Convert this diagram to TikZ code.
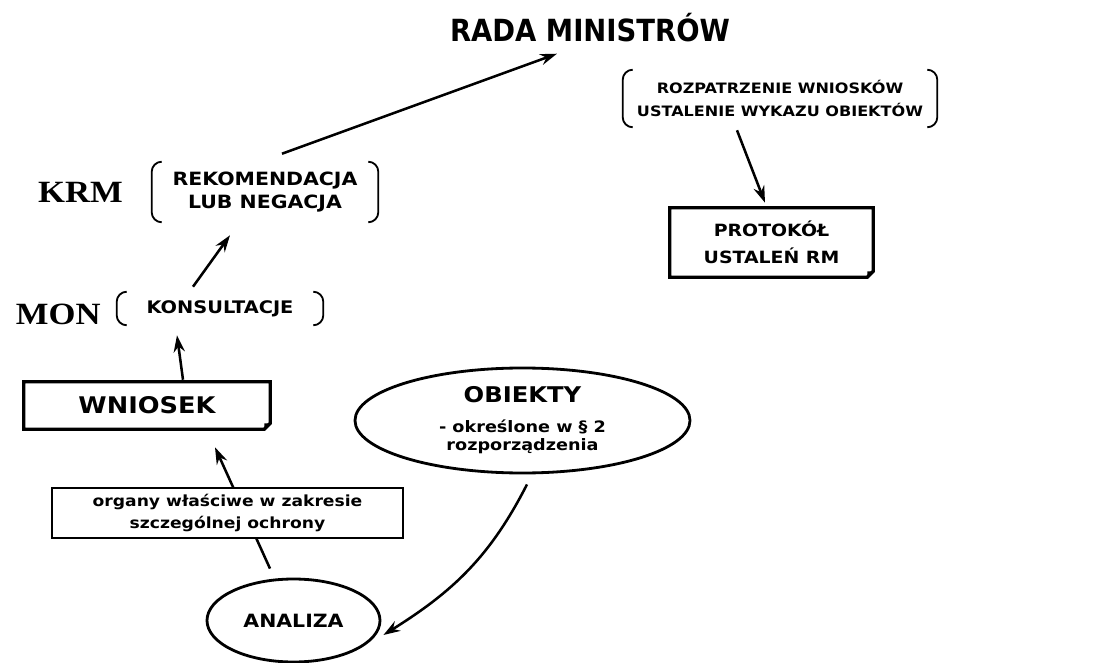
\documentclass[tikz,border=0pt]{standalone}
\usepackage{fontspec}
\setmainfont{DejaVu Sans}[FakeStretch=1.12]
\newfontfamily\titlefont{DejaVu Sans Condensed}
\newfontfamily\sidefont{Liberation Serif}[FakeStretch=1.12]
\usepackage{tikz}
\usetikzlibrary{shapes.geometric, arrows.meta, positioning}

\begin{document}
\begin{tikzpicture}[
        brtext/.style={rectangle, align=center, inner sep=0pt},
        docbox/.style={rectangle, align=center, inner sep=0pt},
        oval/.style={ellipse, draw, line width=2pt, align=center, inner sep=0pt},
        sidelbl/.style={font=\sidefont\bfseries\fontsize{22}{24}\selectfont},
        brk/.style={line width=1.3pt, rounded corners=0.25cm},
        boxline/.style={line width=2.4pt, line join=miter},
        arrow/.style={line width=1.8pt, -{Stealth[length=12pt, width=8pt, inset=4pt]}}
    ]
    \fill[white] (0,0) rectangle (27.5,-16.575);
    \useasboundingbox (0,0) rectangle (27.5,-16.575);

    % Nodes
    \node (rada) [anchor=base, inner sep=0.1cm, font=\titlefont\bfseries\fontsize{21.7}{24}\selectfont] at (14.75,-1.05) {RADA MINISTRÓW};
    \node (rozp) [brtext, minimum width=7.85cm, minimum height=1.425cm, font=\bfseries\fontsize{10.2}{17}\selectfont] at (19.5,-2.4625) {ROZPATRZENIE WNIOSKÓW\\USTALENIE WYKAZU OBIEKTÓW};
    \node (protokol) [docbox, minimum width=5.075cm, minimum height=1.725cm, font=\bfseries\fontsize{12}{19}\selectfont] at (19.2875,-6.0625) {PROTOKÓŁ\\USTALEŃ RM};

    \node (rekom) [brtext, minimum width=5.65cm, minimum height=1.5cm, font=\bfseries\fontsize{13}{16.4}\selectfont] at (6.625,-4.8) {REKOMENDACJA\\LUB NEGACJA};
    \node (krm) [sidelbl, left=0.6cm of rekom] {KRM};
    \node (konsult) [brtext, minimum width=5.15cm, minimum height=0.825cm, font=\bfseries\fontsize{12.3}{14}\selectfont] at (5.5,-7.7125) {KONSULTACJE};
    \node (mon) [sidelbl, left=0.28cm of konsult, yshift=-0.14cm] {MON};

    \node (wniosek) [docbox, minimum width=6.15cm, minimum height=1.175cm, font=\bfseries\fontsize{16.3}{18}\selectfont] at (3.675,-10.1375) {WNIOSEK};
    \node (obiekty) [oval, minimum width=8.375cm, minimum height=2.625cm, font=\bfseries\fontsize{11.2}{12.8}\selectfont] at (13.0625,-10.5125) {{\fontsize{15.4}{18}\selectfont OBIEKTY}\\[8.5pt]- określone w § 2\\rozporządzenia};
    \node (analiza) [oval, minimum width=4.325cm, minimum height=2.075cm, font=\bfseries\fontsize{13}{15}\selectfont] at (7.3375,-15.5125) {ANALIZA};

    % Brackets
    \foreach \n in {rozp, rekom, konsult} {
        \draw [brk] ([xshift=0.25cm]\n.north west) -- (\n.north west) -- (\n.south west) -- ([xshift=0.25cm]\n.south west);
        \draw [brk] ([xshift=-0.25cm]\n.north east) -- (\n.north east) -- (\n.south east) -- ([xshift=-0.25cm]\n.south east);
    }

    % Boxes with a folded corner
    \foreach \n in {wniosek, protokol} {
        \draw [boxline] (\n.north west) -- (\n.north east) -- ([yshift=0.15cm]\n.south east) -- ([xshift=-0.15cm]\n.south east) -- (\n.south west) -- cycle;
        \fill ([yshift=0.15cm]\n.south east) -- ([xshift=-0.15cm]\n.south east) -- ([shift={(-0.15cm,0.15cm)}]\n.south east) -- cycle;
    }

    % Arrows
    \draw [arrow] ([xshift=0.425cm, yshift=0.2cm]rekom.north) -- ([xshift=-0.825cm, yshift=-0.175cm]rada.south);
    \draw [arrow] ([xshift=-0.675cm, yshift=0.125cm]konsult.north) -- ([xshift=-0.875cm, yshift=-0.325cm]rekom.south);
    \draw [arrow] ([xshift=0.9cm, yshift=0.05cm]wniosek.north) -- ([xshift=-1.075cm, yshift=-0.25cm]konsult.south);
    \draw [arrow] ([xshift=-0.5875cm, yshift=0.225cm]analiza.north) -- ([xshift=1.7cm, yshift=-0.45cm]wniosek.south);
    \draw [arrow] ([xshift=0.1125cm, yshift=-0.25cm]obiekty.south) to[out=243, in=32] ([xshift=0.05cm, yshift=-0.3625cm]analiza.east);
    \draw [arrow] ([xshift=-1.075cm, yshift=-0.075cm]rozp.south) -- ([xshift=-0.1625cm, yshift=0.125cm]protokol.north);

    % Label box over the arrow
    \node (organy) [draw, line width=1pt, fill=white, minimum width=8.775cm, minimum height=1.25cm, align=center, inner sep=0pt, font=\bfseries\fontsize{10.9}{15.6}\selectfont] at (5.6875,-12.825) {organy właściwe w zakresie\\szczególnej ochrony};

\end{tikzpicture}
\end{document}
